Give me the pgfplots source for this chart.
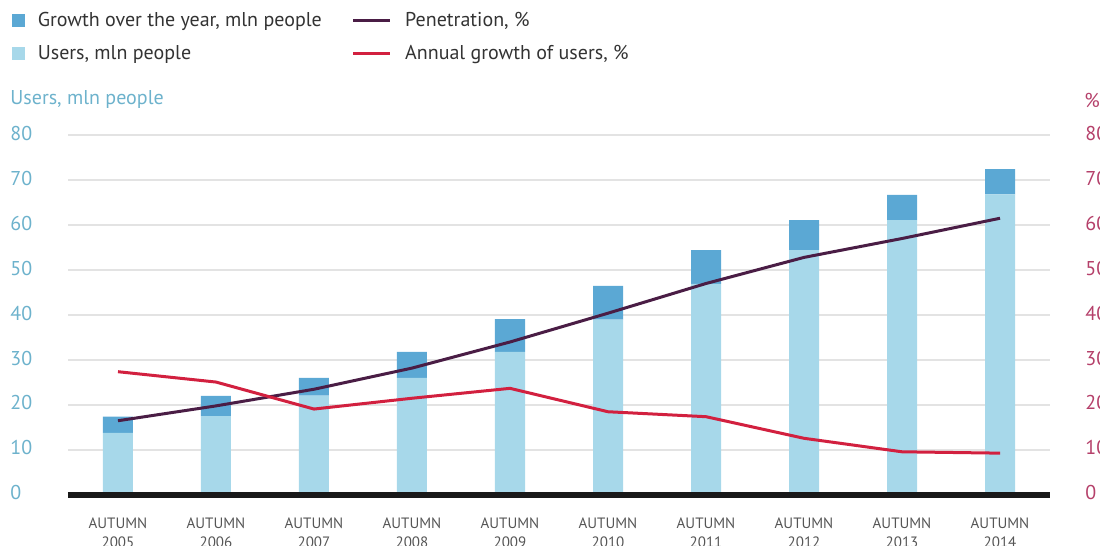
\documentclass[border=0pt]{standalone}
\usepackage{pgfplots}
\pgfplotsset{compat=1.18}
\usepackage{fontspec}
\setmainfont{PT Sans}
\definecolor{growth}{HTML}{5BA8D4}
\definecolor{users}{HTML}{A7D8EA}
\definecolor{pen}{HTML}{4A1D45}
\definecolor{ann}{HTML}{D2203F}
\definecolor{lefttick}{HTML}{6DB2CC}
\definecolor{righttick}{HTML}{B5406A}
\definecolor{gridc}{HTML}{E3E3E3}
\definecolor{xlab}{HTML}{555555}
\definecolor{legtext}{HTML}{333333}
\pgfplotsset{
 sqlegend/.style={legend image code/.code={\fill[##1] (0pt,-3.25pt) rectangle (6.5pt,3.25pt); \path (10.7pt,0pt);}},
 lnlegend/.style={legend image code/.code={\draw[##1] (0pt,0pt) -- (18.5pt,0pt); \path (23.2pt,0pt);}},
}
\begin{document}
\begin{tikzpicture}
\useasboundingbox (0,0) rectangle (550pt,273pt);
\clip (0,0) rectangle (550pt,273pt);
\begin{axis}[
 at={(34pt,25.5pt)}, anchor=south west,
 scale only axis, width=491pt, height=180pt,
 xmin=-0.51, xmax=9.51, ymin=0, ymax=80,
 ybar stacked, bar width=15pt,
 xtick={0,...,9},
 xticklabels={{AUTUMN\\2005},{AUTUMN\\2006},{AUTUMN\\2007},{AUTUMN\\2008},{AUTUMN\\2009},{AUTUMN\\2010},{AUTUMN\\2011},{AUTUMN\\2012},{AUTUMN\\2013},{AUTUMN\\2014}},
 xticklabel style={align=center, font=\fontsize{7.5}{9.5}\selectfont, text=xlab, anchor=north, inner sep=0pt, yshift=-11pt},
 major tick length=0pt,
 ytick={0,10,...,80},
 ymajorgrids, grid style={gridc, line width=0.75pt},
 yticklabel style={anchor=west, inner sep=0pt, xshift=-29pt, yshift=1pt, text=lefttick, font=\fontsize{10}{11}\selectfont},
 axis line style={draw=none},
 /pgf/number format/assume math mode=true,
]
\addplot[fill=users, draw=none] coordinates {(0,13.8) (1,17.5) (2,22.1) (3,26.0) (4,31.8) (5,39.0) (6,46.9) (7,54.4) (8,61.1) (9,66.8)};
\addplot[fill=growth, draw=none] coordinates {(0,3.6) (1,4.5) (2,3.9) (3,5.8) (4,7.3) (5,7.5) (6,7.5) (7,6.7) (8,5.6) (9,5.6)};
\end{axis}
\begin{axis}[
 at={(34pt,25.5pt)}, anchor=south west,
 scale only axis, width=491pt, height=180pt,
 xmin=-0.51, xmax=9.51, ymin=0, ymax=80,
 clip=false,
 xtick=\empty,
 major tick length=0pt,
 ytick={0,10,...,80},
 yticklabel pos=right,
 yticklabel style={anchor=west, inner sep=0pt, xshift=17.5pt, yshift=1pt, text=righttick, font=\fontsize{10}{11}\selectfont},
 axis line style={draw=none},
 /pgf/number format/assume math mode=true,
 legend columns=2,
 legend cell align=left,
 legend style={at={(axis description cs:-0.057,1.354)}, anchor=north west, draw=none, fill=none, inner sep=0pt,
   font=\fontsize{10}{11}\selectfont, text=legtext, row sep=4pt,
   /tikz/every even column/.append style={column sep=13pt}},
]
\addplot[line width=3pt, color=black!90, forget plot] coordinates {(-0.51,0) (9.51,0)};
\addplot[line width=1.5pt, color=pen, line join=round, forget plot] coordinates {(0,16.5) (1,19.8) (2,23.5) (3,28.2) (4,34.0) (5,40.4) (6,47.0) (7,52.8) (8,57.0) (9,61.5)};
\addplot[line width=1.5pt, color=ann, line join=round, forget plot] coordinates {(0,27.4) (1,25.1) (2,19.1) (3,21.5) (4,23.7) (5,18.5) (6,17.4) (7,12.6) (8,9.6) (9,9.3)};
\addlegendimage{fill=growth, draw=none, sqlegend}
\addlegendentry{Growth over the year, mln people}
\addlegendimage{draw=pen, line width=1.5pt, lnlegend}
\addlegendentry{Penetration, \%}
\addlegendimage{fill=users, draw=none, sqlegend}
\addlegendentry{Users, mln people}
\addlegendimage{draw=ann, line width=1.5pt, lnlegend}
\addlegendentry{Annual growth of users, \%}
\end{axis}
\node[anchor=west, inner sep=0pt, text=lefttick, font=\fontsize{10}{11}\selectfont] at (5pt,223pt) {Users, mln people};
\node[anchor=west, inner sep=0pt, text=righttick, font=\fontsize{10}{11}\selectfont] at (542pt,223pt) {\%};
\end{tikzpicture}
\end{document}
